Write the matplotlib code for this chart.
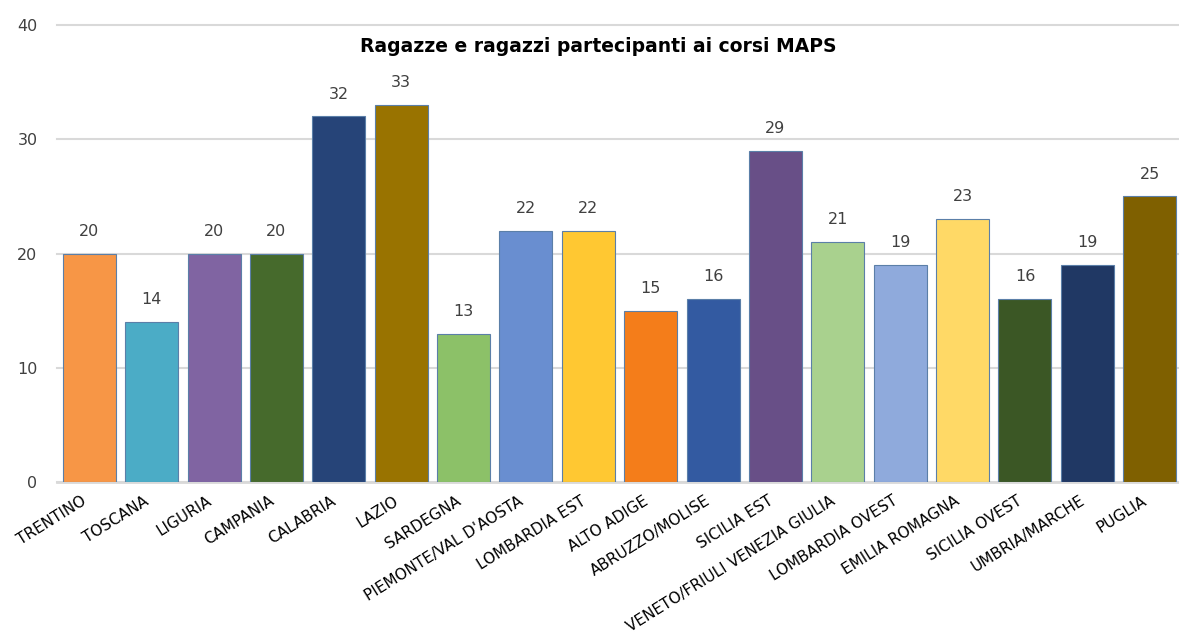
import numpy as np
import matplotlib.pyplot as plt
import matplotlib.transforms as mtransforms

regioni = ['TRENTINO', 'TOSCANA', 'LIGURIA', 'CAMPANIA', 'CALABRIA', 'LAZIO',
           'SARDEGNA', "PIEMONTE/VAL D'AOSTA", 'LOMBARDIA EST', 'ALTO ADIGE',
           'ABRUZZO/MOLISE', 'SICILIA EST', 'VENETO/FRIULI VENEZIA GIULIA',
           'LOMBARDIA OVEST', 'EMILIA ROMAGNA', 'SICILIA OVEST', 'UMBRIA/MARCHE',
           'PUGLIA']
partecipanti = [20, 14, 20, 20, 32, 33, 13, 22, 22, 15, 16, 29, 21, 19, 23, 16, 19, 25]
colori = ['#F79646', '#4BACC6', '#8064A2', '#466A2C', '#264478', '#997300',
          '#8CC168', '#698ED0', '#FFC832', '#F47D1A', '#335AA1', '#684F87',
          '#A9D18E', '#8FAADC', '#FFD966', '#3B5725', '#203864', '#7F6000']

fig = plt.figure(figsize=(11.79, 6.42), dpi=100)
ax = fig.add_axes([0.0483, 0.249, 0.9517, 0.712])

x = np.arange(len(regioni))
bars = ax.bar(x, partecipanti, width=0.85, color=colori,
              edgecolor='#5B7FA8', linewidth=0.8, zorder=3)

for b, v in zip(bars, partecipanti):
    ax.text(b.get_x() + b.get_width() / 2, v + 1.3, str(v),
            ha='center', va='bottom', fontsize=11.5, color='#404040')

ax.set_ylim(0, 40)
ax.set_xlim(-0.52, 17.47)
ax.set_yticks([0, 10, 20, 30, 40])
ax.yaxis.grid(True, color='#D9D9D9', linewidth=1.5, zorder=0)
for gl in ax.get_ygridlines():
    gl.set_clip_on(False)
ax.tick_params(axis='y', length=0, pad=14, labelsize=11.5, labelcolor='#404040')
ax.tick_params(axis='x', length=0, pad=8)

for s in ['top', 'right', 'left']:
    ax.spines[s].set_visible(False)
ax.spines['bottom'].set_color('#D9D9D9')
ax.spines['bottom'].set_linewidth(2)

ax.set_xticks(x)
ax.set_xticklabels(regioni, rotation=32, ha='right', rotation_mode='anchor',
                   fontsize=11, color='black')
offset = mtransforms.ScaledTranslation(-0.08, 0, fig.dpi_scale_trans)
for lab in ax.get_xticklabels():
    lab.set_transform(lab.get_transform() + offset)

fig.text(0.507, 0.927, 'Ragazze e ragazzi partecipanti ai corsi MAPS',
         fontsize=13.5, fontweight='bold', ha='center', va='center', color='black')

plt.savefig('out.png', dpi=100)
